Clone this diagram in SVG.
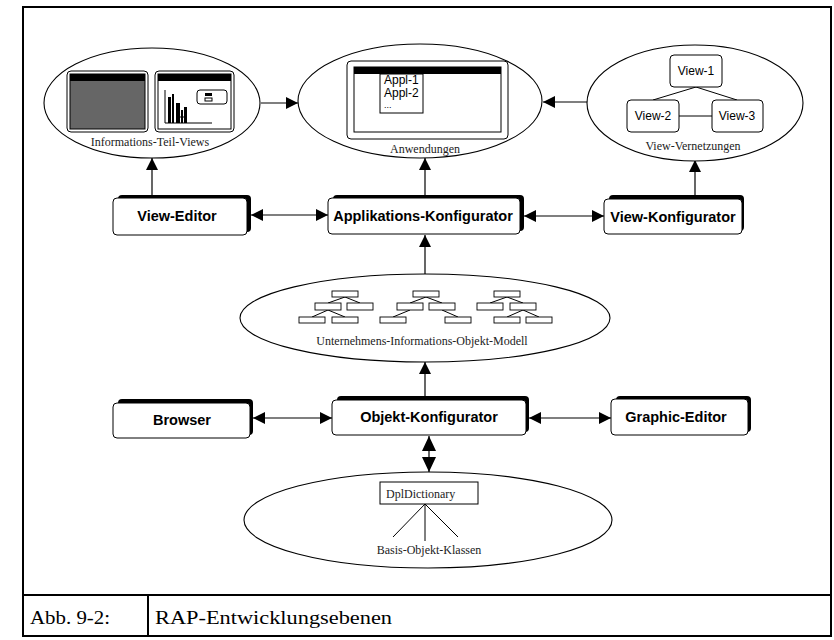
<svg xmlns="http://www.w3.org/2000/svg" width="834" height="640" viewBox="0 0 834 640">
  <style>
    .frame { fill: none; stroke: #000; stroke-width: 2; }
    .ell { fill: #fff; stroke: #000; stroke-width: 1.1; }
    .lbl { font-family: "Liberation Serif", "Times New Roman", serif; font-size: 12px; fill: #222; text-anchor: middle; }
    .lbl-l { font-family: "Liberation Serif", "Times New Roman", serif; font-size: 12px; fill: #222; text-anchor: start; }
    .box { fill: #fff; stroke: #000; stroke-width: 1; }
    .shadow { fill: #000; }
    .btxt { font-family: "Liberation Sans", Arial, sans-serif; font-weight: bold; font-size: 14.5px; fill: #000; text-anchor: middle; }
    .stxt { font-family: "Liberation Sans", Arial, sans-serif; font-size: 12px; fill: #000; }
    .thin { fill: none; stroke: #000; stroke-width: 1; }
    .tb { fill: #fff; stroke: #000; stroke-width: 0.9; }
    .conn { fill: none; stroke: #000; stroke-width: 1.2; }
    .cap { font-family: "Liberation Serif", "Times New Roman", serif; font-size: 18px; fill: #000; }
  </style>
  <defs>
    <marker id="ah" viewBox="0 0 12 12" refX="12" refY="6" markerWidth="12" markerHeight="12" markerUnits="userSpaceOnUse" orient="auto-start-reverse">
      <path d="M0,0 L12,6 L0,12 Z" fill="#000"/>
    </marker>
    <marker id="ahBig" viewBox="0 0 15 14" refX="15" refY="7" markerWidth="15" markerHeight="14" markerUnits="userSpaceOnUse" orient="auto-start-reverse">
      <path d="M0,0 L15,7 L0,14 Z" fill="#000"/>
    </marker>
  </defs>

  <rect width="834" height="640" fill="#fff"/>

  <!-- outer frame and caption table -->
  <g id="frame">
    <rect class="frame" x="23" y="7" width="808" height="629"/>
    <line class="frame" x1="23" y1="595" x2="831" y2="595"/>
    <line class="frame" x1="148" y1="595" x2="148" y2="636"/>
    <text class="cap" x="30" y="624" textLength="80" lengthAdjust="spacingAndGlyphs">Abb. 9-2:</text>
    <text class="cap" x="155" y="624" textLength="237" lengthAdjust="spacingAndGlyphs">RAP-Entwicklungsebenen</text>
  </g>

  <!-- connectors -->
  <g id="connectors">
    <line class="conn" x1="261" y1="103" x2="298" y2="103" marker-end="url(#ah)"/>
    <line class="conn" x1="588" y1="102" x2="543" y2="102" marker-end="url(#ah)"/>
    <line class="conn" x1="152" y1="195" x2="152" y2="158" marker-end="url(#ah)"/>
    <line class="conn" x1="425" y1="195" x2="425" y2="158" marker-end="url(#ah)"/>
    <line class="conn" x1="695" y1="195" x2="695" y2="160" marker-end="url(#ah)"/>
    <line class="conn" x1="425" y1="275" x2="425" y2="235" marker-end="url(#ah)"/>
    <line class="conn" x1="425" y1="396" x2="425" y2="362" marker-end="url(#ah)"/>
    <line class="conn" x1="251" y1="215" x2="328" y2="215" marker-start="url(#ah)" marker-end="url(#ah)"/>
    <line class="conn" x1="524" y1="216" x2="604" y2="216" marker-start="url(#ah)" marker-end="url(#ah)"/>
    <line class="conn" x1="253" y1="418" x2="332" y2="418" marker-start="url(#ah)" marker-end="url(#ah)"/>
    <line class="conn" x1="529" y1="418" x2="611" y2="418" marker-start="url(#ah)" marker-end="url(#ah)"/>
    <line class="conn" x1="429" y1="436" x2="429" y2="472" marker-start="url(#ahBig)" marker-end="url(#ahBig)"/>
  </g>

  <!-- Informations-Teil-Views -->
  <g id="teil-views">
    <ellipse class="ell" cx="152" cy="103" rx="108" ry="55"/>
    <!-- window with grey content -->
    <rect class="thin" x="67" y="71" width="81" height="61" rx="4" stroke-width="1.3"/>
    <rect x="70" y="74" width="75" height="55" fill="#666" stroke="#000" stroke-width="1"/>
    <rect x="70" y="74" width="75" height="7" fill="#000"/>
    <!-- window with chart -->
    <rect class="thin" x="155" y="71" width="79" height="61" rx="4" stroke-width="1.3"/>
    <rect x="158" y="74" width="73" height="55" fill="#fff" stroke="#000" stroke-width="1"/>
    <rect x="158" y="74" width="73" height="7" fill="#000"/>
    <polyline class="thin" points="165,90 165,123 212,123"/>
    <rect x="168" y="97" width="3" height="26" fill="#000"/>
    <rect x="172" y="94" width="2" height="29" fill="#000"/>
    <rect x="176" y="103" width="4" height="20" fill="#000"/>
    <rect x="181" y="110" width="2" height="13" fill="#000"/>
    <rect x="184" y="107" width="3" height="16" fill="#000"/>
    <line class="thin" x1="176" y1="117" x2="187" y2="117"/>
    <rect class="thin" x="197" y="90" width="30" height="14" rx="3"/>
    <rect x="205" y="93" width="7" height="3" fill="#000"/>
    <rect class="thin" x="205" y="98" width="7" height="3" stroke-width="0.8"/>
    <text class="lbl" x="150" y="146">Informations-Teil-Views</text>
  </g>

  <!-- Anwendungen -->
  <g id="anwendungen">
    <ellipse class="ell" cx="420" cy="101" rx="122" ry="57"/>
    <rect class="thin" x="347" y="61" width="161" height="78" rx="4" stroke-width="1.3"/>
    <rect class="thin" x="354" y="67" width="147" height="65"/>
    <rect x="354" y="67" width="147" height="7" fill="#000"/>
    <rect class="thin" x="380" y="74" width="43" height="39"/>
    <text class="stxt" font-size="10"><tspan x="384" y="84">Appl-1</tspan><tspan x="384" y="97">Appl-2</tspan><tspan x="384" y="108" font-size="9">...</tspan></text>
    <text class="lbl" x="425" y="153">Anwendungen</text>
  </g>

  <!-- View-Vernetzungen -->
  <g id="view-vernetzungen">
    <ellipse class="ell" cx="695" cy="103" rx="108" ry="58"/>
    <line class="thin" x1="696" y1="87" x2="653" y2="100"/>
    <line class="thin" x1="696" y1="87" x2="737" y2="100"/>
    <line class="thin" x1="679" y1="116" x2="712" y2="116"/>
    <rect class="box" x="670" y="55" width="52" height="32" rx="4"/>
    <rect class="box" x="627" y="100" width="52" height="32" rx="4"/>
    <rect class="box" x="712" y="100" width="51" height="32" rx="4"/>
    <text class="stxt" x="696" y="75" text-anchor="middle">View-1</text>
    <text class="stxt" x="653" y="120" text-anchor="middle">View-2</text>
    <text class="stxt" x="737" y="120" text-anchor="middle">View-3</text>
    <text class="lbl" x="693" y="150">View-Vernetzungen</text>
  </g>

  <!-- View-Editor -->
  <g id="view-editor">
    <rect class="shadow" x="118" y="195" width="133" height="37" rx="4"/>
    <rect class="box" x="113" y="198" width="134" height="37" rx="4"/>
    <text class="btxt" x="177" y="221">View-Editor</text>
  </g>

  <!-- Applikations-Konfigurator -->
  <g id="applikations-konfigurator">
    <rect class="shadow" x="333" y="195" width="191" height="36" rx="4"/>
    <rect class="box" x="328" y="198" width="192" height="36" rx="4"/>
    <text class="btxt" x="423" y="221">Applikations-Konfigurator</text>
  </g>

  <!-- View-Konfigurator -->
  <g id="view-konfigurator">
    <rect class="shadow" x="609" y="195" width="135" height="36" rx="4"/>
    <rect class="box" x="604" y="199" width="138" height="35" rx="4"/>
    <text class="btxt" x="673" y="222">View-Konfigurator</text>
  </g>

  <!-- Unternehmens-Informations-Objekt-Modell -->
  <g id="objekt-modell">
    <ellipse class="ell" cx="425" cy="318" rx="185" ry="44"/>
    <g class="thin">
      <!-- tree 1 -->
      <line x1="345" y1="297" x2="328" y2="303"/>
      <line x1="345" y1="297" x2="360" y2="303"/>
      <line x1="328" y1="310" x2="312" y2="317"/>
      <line x1="328" y1="310" x2="345" y2="317"/>
      <!-- tree 2 -->
      <line x1="426" y1="297" x2="410" y2="303"/>
      <line x1="426" y1="297" x2="442" y2="303"/>
      <line x1="410" y1="310" x2="393" y2="317"/>
      <line x1="442" y1="310" x2="458" y2="317"/>
      <!-- tree 3 -->
      <line x1="507" y1="297" x2="490" y2="303"/>
      <line x1="507" y1="297" x2="523" y2="303"/>
      <line x1="523" y1="310" x2="507" y2="317"/>
      <line x1="523" y1="310" x2="539" y2="317"/>
    </g>
    <g class="tb">
      <rect x="332" y="291" width="26" height="6"/>
      <rect x="315" y="303" width="26" height="7"/>
      <rect x="347" y="303" width="26" height="7"/>
      <rect x="299" y="317" width="26" height="6"/>
      <rect x="332" y="317" width="26" height="6"/>

      <rect x="413" y="291" width="26" height="6"/>
      <rect x="397" y="303" width="26" height="7"/>
      <rect x="429" y="303" width="26" height="7"/>
      <rect x="380" y="317" width="26" height="6"/>
      <rect x="445" y="317" width="26" height="6"/>

      <rect x="494" y="291" width="26" height="6"/>
      <rect x="477" y="303" width="26" height="7"/>
      <rect x="510" y="303" width="26" height="7"/>
      <rect x="494" y="317" width="26" height="6"/>
      <rect x="526" y="317" width="26" height="6"/>
    </g>
    <text class="lbl" x="422" y="345">Unternehmens-Informations-Objekt-Modell</text>
  </g>

  <!-- Browser -->
  <g id="browser">
    <rect class="shadow" x="118" y="399" width="135" height="36" rx="4"/>
    <rect class="box" x="113" y="403" width="137" height="35" rx="4"/>
    <text class="btxt" x="182" y="425">Browser</text>
  </g>

  <!-- Objekt-Konfigurator -->
  <g id="objekt-konfigurator">
    <rect class="shadow" x="337" y="396" width="192" height="36" rx="4"/>
    <rect class="box" x="332" y="400" width="194" height="35" rx="4"/>
    <text class="btxt" x="429" y="422">Objekt-Konfigurator</text>
  </g>

  <!-- Graphic-Editor -->
  <g id="graphic-editor">
    <rect class="shadow" x="616" y="396" width="135" height="36" rx="4"/>
    <rect class="box" x="611" y="399" width="137" height="36" rx="4"/>
    <text class="btxt" x="676" y="422">Graphic-Editor</text>
  </g>

  <!-- Basis-Objekt-Klassen -->
  <g id="basis-klassen">
    <ellipse class="ell" cx="428" cy="520" rx="184" ry="48"/>
    <rect class="thin" x="380" y="482" width="98" height="22"/>
    <text class="lbl-l" x="386" y="498">DplDictionary</text>
    <line class="thin" x1="425" y1="504" x2="393" y2="537"/>
    <line class="thin" x1="425" y1="504" x2="425" y2="541"/>
    <line class="thin" x1="425" y1="504" x2="458" y2="537"/>
    <text class="lbl" x="429" y="554">Basis-Objekt-Klassen</text>
  </g>
</svg>
